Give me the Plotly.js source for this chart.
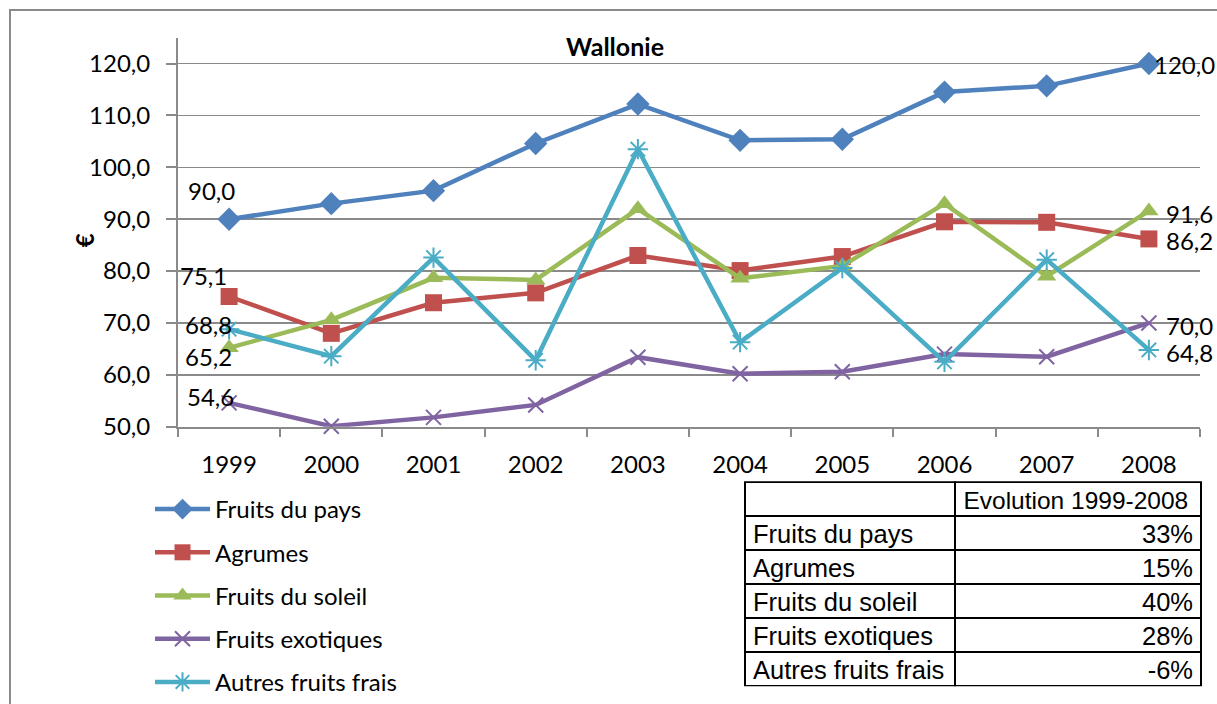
<!DOCTYPE html>
<html>
<head>
<meta charset="utf-8">
<script src="https://cdn.plot.ly/plotly-3.0.1.min.js"></script>
<style>html,body{margin:0;padding:0;background:#fff;}#chart{width:1217px;height:704px;}</style>
</head>
<body>
<div id="chart"></div>
<script>
// ---- data ----
const years = ['1999','2000','2001','2002','2003','2004','2005','2006','2007','2008'];
const seriesNames = ['Fruits du pays','Agrumes','Fruits du soleil','Fruits exotiques','Autres fruits frais'];
const fruitsDuPays      = [90.0, 93.0, 95.5, 104.6, 112.2, 105.2, 105.4, 114.5, 115.7, 120.0];
const agrumes           = [75.1, 68.0, 73.9, 75.8, 83.0, 80.1, 82.8, 89.5, 89.4, 86.2];
const fruitsDuSoleil    = [65.2, 70.6, 78.7, 78.3, 92.0, 78.6, 81.0, 93.0, 79.0, 91.6];
const fruitsExotiques   = [54.6, 50.1, 51.8, 54.2, 63.4, 60.2, 60.6, 64.0, 63.5, 70.0];
const autresFruitsFrais = [68.8, 63.6, 82.6, 62.8, 103.5, 66.3, 80.6, 62.5, 82.2, 64.8];
const tableHeader = ['', 'Evolution 1999-2008'];
const evolution = ['33%', '15%', '40%', '28%', '-6%'];
const chartTitle = 'Wallonie';
const yTitle = '€';

// ---- styles ----
const W = 1217, H = 704;
const px = v => v / W;
const py = v => 1 - v / H;
const FONT = 'Lato, Calibri, sans-serif';
const TFONT = 'Liberation Sans, Arial, sans-serif';
const GRID = '#8a8a8a';
const seriesData = [fruitsDuPays, agrumes, fruitsDuSoleil, fruitsExotiques, autresFruitsFrais];
const styles = [
  {color:'#4F81BD', symbol:'diamond', size:18, lw:0},
  {color:'#C0504D', symbol:'square', size:17, lw:0},
  {color:'#9BBB59', symbol:'triangle-up', size:17, lw:0},
  {color:'#8064A2', symbol:'x-thin', size:15, lw:2},
  {color:'#4BACC6', symbol:'asterisk', size:17, lw:2}
];
// label offsets (first point, last point)
const firstShift = [[-18,29],[-26,21],[-21,-9],[-19,6],[-21,5]];
const lastShift  = [[3,-1],[15,-2],[15,-3],[15,-3],[15,-3]];

const fmt = v => v.toFixed(1).replace('.', ',');
const nowrap = s => s.replace(/ /g, '\u00a0');

const traces = seriesData.map((d, i) => ({
  type:'scatter', mode:'lines+markers', name:seriesNames[i],
  x:years, y:d, legendgroup:'g'+i,
  line:{color:styles[i].color, width:4.5},
  marker:{symbol:styles[i].symbol, size:styles[i].size, color:styles[i].color,
          line:{width:styles[i].lw, color:styles[i].color}},
  cliponaxis:false
}));

traces.push({
  type:'table',
  domain:{x:[px(745), px(1201)], y:[py(694), py(487)]},
  columnwidth:[210, 245],
  header:{values:tableHeader.map(v=>[nowrap(v)]), align:['left','left'], height:34,
          line:{color:'#000', width:2}, fill:{color:'#fff'},
          font:{family:TFONT, size:24.5, color:'#000'}},
  cells:{values:[seriesNames.map(nowrap), evolution], align:['left','right'], height:34,
         line:{color:'#000', width:2}, fill:{color:'#fff'},
         font:{family:TFONT, size:25.5, color:'#000'}}
});

const annotations = [];
seriesData.forEach((d, i) => {
  const n = d.length - 1;
  annotations.push({x:0, y:d[0], xref:'x', yref:'y', text:fmt(d[0]), showarrow:false,
    xanchor:'center', yanchor:'middle', xshift:firstShift[i][0], yshift:firstShift[i][1],
    font:{family:FONT, size:24, color:'#000'}});
  annotations.push({x:n, y:d[n], xref:'x', yref:'y', text:fmt(d[n]), showarrow:false,
    xanchor:'left', yanchor:'middle', xshift:lastShift[i][0], yshift:lastShift[i][1],
    font:{family:FONT, size:24, color:'#000'}});
});
annotations.push({xref:'paper', yref:'paper', x:px(68), y:py(234), text:'<b>'+yTitle+'</b>',
  textangle:-90, showarrow:false, font:{family:FONT, size:24, color:'#000'}});

const layout = {
  width:W, height:H,
  margin:{l:0, r:0, t:0, b:0},
  paper_bgcolor:'#fff', plot_bgcolor:'#fff',
  separators:', ',
  font:{family:FONT, size:24, color:'#000'},
  title:{text:'<b>'+chartTitle+'</b>', x:px(615), xanchor:'center', y:py(47), yanchor:'middle',
         font:{family:FONT, size:25, color:'#000'}},
  xaxis:{domain:[px(178), px(1200)], type:'category', range:[-0.5, 9.5],
         showline:true, linecolor:GRID, linewidth:2, showgrid:false, zeroline:false,
         ticks:'outside', tickson:'boundaries', ticklen:8, tickwidth:2, tickcolor:GRID,
         ticklabelstandoff:15, tickfont:{family:FONT, size:24, color:'#000'}},
  yaxis:{domain:[py(431), py(38)], range:[50, 125], dtick:10, tick0:50, tickformat:'.1f',
         showline:true, linecolor:GRID, linewidth:2, showgrid:true, gridcolor:GRID, gridwidth:1.5,
         zeroline:false, ticks:'outside', ticklen:10, tickwidth:2, tickcolor:GRID,
         ticklabelstandoff:11, tickfont:{family:FONT, size:24, color:'#000'}},
  showlegend:true,
  legend:{x:px(150), y:py(492), xanchor:'left', yanchor:'top', orientation:'v',
          itemwidth:55, tracegroupgap:9, bgcolor:'rgba(0,0,0,0)', font:{family:FONT, size:24, color:'#000'}},
  shapes:[{type:'rect', xref:'paper', yref:'paper', x0:px(10), x1:1.1, y0:-0.1, y1:py(10),
           line:{color:GRID, width:2}, fillcolor:'rgba(0,0,0,0)', layer:'below'}],
  annotations:annotations
};

Plotly.newPlot('chart', traces, layout, {displayModeBar:false, staticPlot:true});
</script>
</body>
</html>
